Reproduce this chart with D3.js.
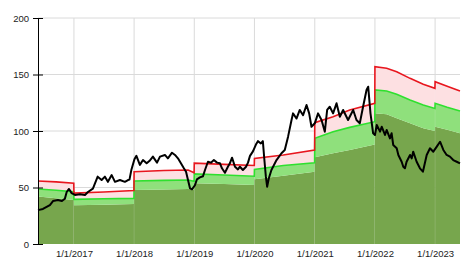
<!DOCTYPE html>
<html>
<head>
<meta charset="utf-8">
<script src="https://cdn.jsdelivr.net/npm/d3@7"></script>
<style>
  body { margin: 0; background: #fff; }
  text { font-family: "Liberation Sans", Arial, sans-serif; }
</style>
</head>
<body>
<script>
// Yearly band segments (each segment steps at the start of a year)
const segDates = [
  ["2016-05-28", "2016-09-15", "2016-12-31"],
  ["2017-01-01", "2017-07-01", "2017-12-31"],
  ["2018-01-01", "2018-07-01", "2018-11-25", "2018-12-31"],
  ["2019-01-01", "2019-07-01", "2019-12-31"],
  ["2020-01-01", "2020-06-24", "2020-12-31"],
  ["2021-01-01", "2021-04-22", "2021-08-01", "2021-12-31"],
  ["2022-01-01", "2022-03-13", "2022-05-13", "2022-08-02", "2022-10-21", "2022-12-31"],
  ["2023-01-01", "2023-03-15", "2023-06-01"]
];
const redVals = [
  [55.8, 55, 53.7],
  [45, 46, 47.3],
  [64, 65, 65.5, 63],
  [71.5, 70.5, 69.5],
  [75.8, 78.8, 83.2],
  [107.4, 112.7, 118.6, 124.5],
  [157, 155.5, 152.5, 146.6, 141.3, 137.8],
  [143.6, 139.5, 135.4]
];
const greenVals = [
  [48.7, 47.5, 46.3],
  [39.5, 40, 40.4],
  [55.8, 56.3, 56.6, 55.5],
  [62, 61, 60],
  [66, 69.5, 71.8],
  [93.5, 99.4, 103.2, 108.2],
  [136.3, 135.4, 132.5, 127.4, 123, 120],
  [124.5, 121, 117.7]
];
const lowVals = [
  [42, 40.5, 39],
  [34.2, 34.8, 35.4],
  [47.8, 48.3, 48.7, 48],
  [53.7, 53, 52.2],
  [57.3, 60.5, 64],
  [76.7, 80.3, 83.2, 88],
  [115.6, 114.8, 111.2, 106.8, 102.4, 100],
  [103.8, 101, 98]
];

// Price series
const priceDates = [
  "2016-05-28","2016-06-27","2016-08-08","2016-08-27","2016-09-26","2016-10-20","2016-11-07","2016-11-18",
  "2016-12-02","2016-12-18","2017-01-07","2017-02-06","2017-03-09","2017-03-27","2017-04-26","2017-05-25",
  "2017-06-18","2017-07-08","2017-07-26","2017-08-18","2017-09-07","2017-10-07","2017-11-06","2017-11-25",
  "2017-12-04","2017-12-16","2018-01-03","2018-01-15","2018-02-05","2018-02-24","2018-03-18","2018-04-07",
  "2018-04-17","2018-04-25","2018-05-20","2018-06-07","2018-07-07","2018-07-25","2018-08-19","2018-09-06",
  "2018-09-24","2018-10-12","2018-10-30","2018-11-12","2018-11-24","2018-12-06","2018-12-18","2019-01-05",
  "2019-01-17","2019-02-04","2019-02-23","2019-03-07","2019-03-25","2019-04-12","2019-04-30","2019-05-19",
  "2019-06-06","2019-06-18","2019-07-06","2019-07-24","2019-08-05","2019-08-18","2019-09-05","2019-09-23",
  "2019-10-05","2019-10-23","2019-11-11","2019-11-23","2019-12-05","2019-12-23","2020-01-10","2020-01-22",
  "2020-02-09","2020-02-21","2020-03-01","2020-03-10","2020-03-18","2020-03-28","2020-04-13","2020-05-14",
  "2020-06-13","2020-07-03","2020-07-23","2020-08-13","2020-08-22","2020-09-12","2020-10-02","2020-10-22",
  "2020-11-12","2020-11-28","2020-12-12","2021-01-01","2021-01-21","2021-02-11","2021-03-03","2021-03-17",
  "2021-04-02","2021-04-22","2021-05-13","2021-06-02","2021-06-22","2021-07-22","2021-08-22","2021-09-11",
  "2021-10-01","2021-10-21","2021-11-11","2021-11-21","2021-12-05","2021-12-21","2022-01-01","2022-01-12",
  "2022-02-01","2022-02-11","2022-03-03","2022-03-13","2022-04-02","2022-04-12","2022-04-22","2022-05-13",
  "2022-05-23","2022-06-12","2022-06-22","2022-07-02","2022-07-12","2022-08-02","2022-08-12","2022-08-21",
  "2022-09-11","2022-10-01","2022-10-19","2022-11-11","2022-12-01","2022-12-21","2023-01-10","2023-01-31",
  "2023-02-20","2023-03-12","2023-04-01","2023-04-21","2023-05-12","2023-06-01"
];
const priceValues = [
  30, 31, 34.5, 38, 39, 38, 40, 46,
  48.7, 45, 43.4, 44, 43.4, 46, 49, 59.6,
  56.6, 59.6, 55, 61, 55, 56.6, 55, 56.6,
  57, 66, 75, 78, 70, 74.3, 71.4, 74,
  75.8, 77.3, 72, 77.3, 78.8, 75.8, 80.8, 78.8,
  75.8, 71.4, 67, 64, 56.6, 49.3, 48.4, 52,
  57.2, 59, 60, 65.5, 72.8, 72, 74.3, 72,
  71.4, 67, 63, 68.4, 71.4, 76.4, 68.4, 66,
  68.4, 65.5, 68.4, 72, 78, 82, 88, 91,
  89, 91, 75, 60, 50.7, 58, 65.5, 74.3,
  80.3, 83.2, 95, 109.7, 115.6, 111, 118.6, 114,
  123, 115.6, 103.8, 106.8, 115.6, 109.7, 99.4, 118.6,
  121.5, 115.6, 124.5, 112.6, 118.6, 109.7, 118.6, 109.7,
  106.8, 121.5, 136.3, 139.2, 115.6, 98, 96.5, 105.3,
  99.4, 103.8, 96.5, 100.9, 93.5, 98, 87.6, 84.7,
  78.8, 72.8, 68.4, 67, 72.8, 78.8, 75.8, 81.7,
  72.8, 67, 64, 78.8, 84.7, 81.7, 86, 90.5,
  83.2, 78.8, 77.3, 74.3, 72.8, 71.4
];

const yTicks = [0, 50, 100, 150, 200];
const xTicks = ["2017-01-01", "2018-01-01", "2019-01-01", "2020-01-01", "2021-01-01", "2022-01-01", "2023-01-01"];

const parse = d3.timeParse("%Y-%m-%d");
const width = 474, height = 272;
const margin = { left: 38, right: 460, top: 18, bottom: 244 };

const svg = d3.select("body").append("svg")
  .attr("width", width)
  .attr("height", height);

// Scales
const x = d3.scaleTime()
  .domain([parse("2016-05-28"), parse("2023-06-01")])
  .range([margin.left, margin.right]);
const y = d3.scaleLinear()
  .domain([0, 200])
  .range([margin.bottom, margin.top]);

// Grid lines
svg.append("g").selectAll("line")
  .data(yTicks.filter(d => d > 0))
  .enter().append("line")
  .attr("x1", margin.left).attr("x2", margin.right)
  .attr("y1", d => y(d)).attr("y2", d => y(d))
  .attr("stroke", "#dadada").attr("stroke-width", 1);
svg.append("g").selectAll("line")
  .data(xTicks)
  .enter().append("line")
  .attr("x1", d => x(parse(d))).attr("x2", d => x(parse(d)))
  .attr("y1", margin.top).attr("y2", margin.bottom)
  .attr("stroke", "#dadada").attr("stroke-width", 1);

// Build segment points
const segments = segDates.map((dates, i) => dates.map((d, j) => ({
  date: parse(d), red: redVals[i][j], green: greenVals[i][j], low: lowVals[i][j]
})));

const bandGroup = svg.append("g");
segments.forEach(function(seg) {
  // base area from 0 to the low line
  bandGroup.append("path")
    .datum(seg)
    .attr("fill", "#77a64d")
    .attr("d", d3.area().x(d => x(d.date)).y0(y(0)).y1(d => y(d.low)));
  // light green band
  bandGroup.append("path")
    .datum(seg)
    .attr("fill", "#8fe07c")
    .attr("d", d3.area().x(d => x(d.date)).y0(d => y(d.low)).y1(d => y(d.green)));
  // pink band
  bandGroup.append("path")
    .datum(seg)
    .attr("fill", "#fde0e2")
    .attr("d", d3.area().x(d => x(d.date)).y0(d => y(d.green)).y1(d => y(d.red)));
});

// Red and green lines across all segments
const allPts = segments.flat();
svg.append("path")
  .datum(allPts)
  .attr("fill", "none")
  .attr("stroke", "#2fe02f")
  .attr("stroke-width", 1.6)
  .attr("d", d3.line().x(d => x(d.date)).y(d => y(d.green)));
svg.append("path")
  .datum(allPts)
  .attr("fill", "none")
  .attr("stroke", "#e8161e")
  .attr("stroke-width", 1.6)
  .attr("d", d3.line().x(d => x(d.date)).y(d => y(d.red)));

// Price line
const price = priceDates.map((d, i) => ({ date: parse(d), value: priceValues[i] }));
svg.append("path")
  .datum(price)
  .attr("fill", "none")
  .attr("stroke", "#000")
  .attr("stroke-width", 2)
  .attr("stroke-linejoin", "round")
  .attr("d", d3.line().x(d => x(d.date)).y(d => y(d.value)));

// Y axis
const yAxis = svg.append("g")
  .attr("transform", `translate(${margin.left},0)`)
  .call(d3.axisLeft(y).tickValues(yTicks).tickSize(5).tickPadding(4));
yAxis.select(".domain").attr("stroke", "#000");
yAxis.selectAll(".tick line").attr("x1", -5).attr("x2", 5).attr("stroke", "#000");
yAxis.selectAll("text").style("font-size", "9.5px").attr("fill", "#222");

// X labels
const xAxis = svg.append("g")
  .attr("transform", `translate(0,${margin.bottom})`)
  .call(d3.axisBottom(x).tickValues(xTicks.map(parse)).tickFormat(d3.timeFormat("%-m/%-d/%Y")).tickSize(0).tickPadding(6));
xAxis.select(".domain").remove();
xAxis.selectAll("text").style("font-size", "9.5px").attr("fill", "#222");
</script>
</body>
</html>
